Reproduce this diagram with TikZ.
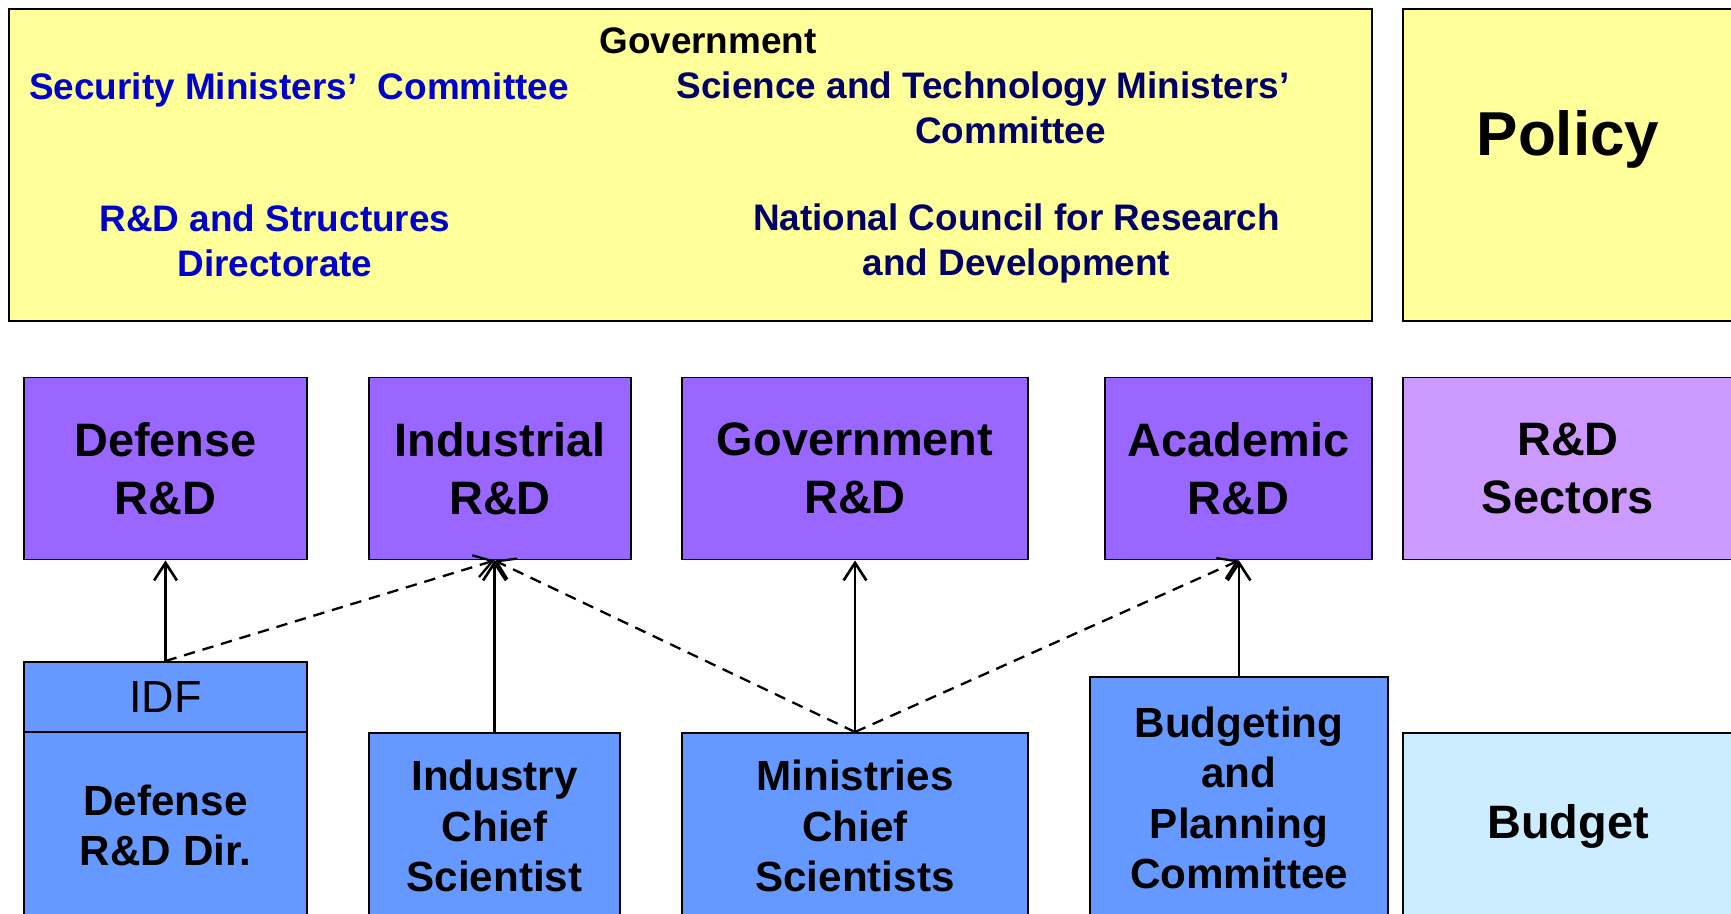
\documentclass[tikz,border=0pt]{standalone}
\usepackage{fontspec}
\setmainfont{Liberation Sans}
\usetikzlibrary{arrows.meta}
\definecolor{govyellow}{HTML}{FFFF99}
\definecolor{rdpurple}{HTML}{9966FF}
\definecolor{rdlilac}{HTML}{CC99FF}
\definecolor{chiefblue}{HTML}{6699FF}
\definecolor{budgetblue}{HTML}{CCECFF}
\definecolor{secblue}{HTML}{0000CC}
\definecolor{stnavy}{HTML}{000066}

\begin{document}
\begin{tikzpicture}[
  box/.style={draw, line width=1.1pt, inner sep=0pt, align=center},
  sector/.style={box, fill=rdpurple, minimum height=3.64cm, font=\fontsize{26.7}{32.8}\selectfont\bfseries},
  chief/.style={box, fill=chiefblue, font=\fontsize{24}{28.7}\selectfont\bfseries},
  govtxt/.style={align=center, inner sep=0pt, font=\fontsize{21}{25.6}\selectfont\bfseries},
  link/.style={->, line width=1.5pt},
  dlink/.style={link, line width=1.3pt, dash pattern=on 6.5pt off 4.5pt},
  >={Straight Barb[length=10pt,width=13pt]}
]
\useasboundingbox (0,0) rectangle (34.62,18.28);
\clip (0,0) rectangle (34.62,18.28);
%\draw[step=1cm,gray,very thin] (0,0) grid (34,18);
\node[box, fill=govyellow, line width=1.5pt, minimum width=27.26cm, minimum height=6.24cm] (govbox) at (13.81,14.98) {};
\node[box, fill=govyellow, line width=1.5pt, minimum width=6.6cm, minimum height=6.24cm] (policybox) at (31.36,14.98) {};
\node[govtxt] (govt) at (14.16,17.46) {Government};
\node[govtxt, text=secblue] (secmin) at (5.98,16.48) {Security Ministers’~ Committee};
\node[govtxt, text=stnavy] (stmin) at (19.66,16.12) {Science and Technology Ministers’\\\hspace*{1.1cm}Committee};
\node[govtxt, text=secblue] (rdstruct) at (5.5,13.46) {R\&D and Structures\\Directorate};
\node[govtxt, text=stnavy] (ncrd) at (20.33,13.42) {National Council for Research\\and Development};
\node[font=\fontsize{35.3}{42}\selectfont\bfseries] (policy) at (31.36,15.49) {Policy};

\node[sector, minimum width=5.66cm] (defrd) at (3.31,8.91) {Defense\\R\&D};
\node[sector, minimum width=5.24cm] (indrd) at (10.0,8.91) {Industrial\\R\&D};
\node[sector, minimum width=6.92cm] (govrd) at (17.1,8.91) {Government\\R\&D};
\node[sector, minimum width=5.34cm] (acadrd) at (24.77,8.91) {Academic\\R\&D};
\node[sector, fill=rdlilac, minimum width=6.6cm] (sectors) at (31.36,8.91) {R\&D\\Sectors};

\node[box, fill=chiefblue, minimum width=5.66cm, minimum height=1.4cm, font=\fontsize{25.6}{30}\selectfont] (idf) at (3.31,4.34) {IDF};
\node[chief, minimum width=5.66cm, minimum height=3.74cm] (defdir) at (3.31,1.77) {Defense\\R\&D Dir.};
\node[chief, minimum width=5.02cm, minimum height=3.72cm] (ichief) at (9.89,1.76) {Industry\\Chief\\Scientist};
\node[chief, minimum width=6.92cm, minimum height=3.72cm] (mchief) at (17.1,1.76) {Ministries\\Chief\\Scientists};
\node[chief, minimum width=5.96cm, minimum height=4.84cm] (bpc) at (24.78,2.32) {Budgeting\\and\\Planning\\Committee};
\node[box, fill=budgetblue, minimum width=6.6cm, minimum height=3.72cm, font=\fontsize{26.7}{32}\selectfont\bfseries] (budget) at (31.36,1.76) {Budget};

\coordinate (indin) at (ichief.north |- indrd.south);
\coordinate (acadin) at (bpc.north |- acadrd.south);
\draw[link] (idf.north) -- (defrd.south);
\draw[link] (ichief.north) -- (indin);
\draw[link] (mchief.north) -- (govrd.south);
\draw[link] (bpc.north) -- (acadin);
\draw[dlink] (idf.north) -- (indin);
\draw[dlink] (mchief.north) -- (indin);
\draw[dlink] (mchief.north) -- (acadin);
\end{tikzpicture}
\end{document}
